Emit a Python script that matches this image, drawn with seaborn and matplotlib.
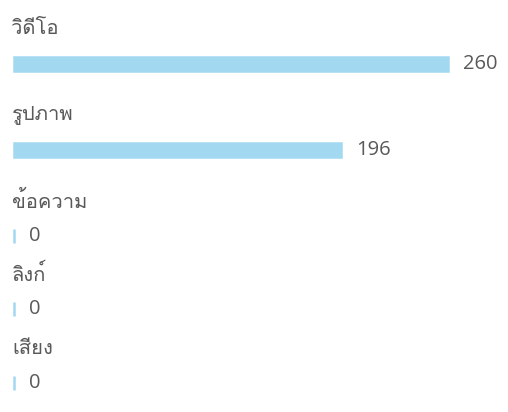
import matplotlib
matplotlib.use("Agg")
import numpy as np
import pandas as pd
import seaborn as sns
import matplotlib.pyplot as plt
from matplotlib import font_manager, ft2font

categories = ["วิดีโอ", "รูปภาพ", "ข้อความ", "ลิงก์", "เสียง"]
values = [260, 196, 0, 0, 0]

sns.set_theme(style="white")


def find_font(codepoint):
    names = []
    for f in sorted(font_manager.findSystemFonts()):
        try:
            ft = ft2font.FT2Font(f)
            if codepoint in ft.get_charmap():
                n = font_manager.FontProperties(fname=f).get_name()
                if n not in names:
                    names.append(n)
        except Exception:
            pass
    return names


thai = find_font(0x0E27)
thai_font = "Loma" if "Loma" in thai else (thai[0] if thai else "DejaVu Sans")
plt.rcParams["font.family"] = [thai_font, "Open Sans", "DejaVu Sans"]

W, H, DPI = 508, 412, 100
fig = plt.figure(figsize=(W / DPI, H / DPI), dpi=DPI)
fig.patch.set_facecolor("white")

bar_color = "#a3d8f1"
text_color = "#595959"
row_centers = [64, 150, 236, 309, 383]
bar_px = 14
x_left, x_full = 14, 448

for cat, val, yc in zip(categories, values, row_centers):
    ax = fig.add_axes([x_left / W, 1 - (yc + bar_px / 2) / H,
                       (x_full - x_left) / W, bar_px / H])
    df = pd.DataFrame({"cat": [cat], "val": [val]})
    sns.barplot(data=df, x="val", y="cat", ax=ax, color=bar_color,
                saturation=1, width=1.0, edgecolor=bar_color, linewidth=1.8)
    ax.set_xlim(0, max(values))
    ax.set_ylim(0.5, -0.5)
    ax.axis("off")
    for p in ax.patches:
        p.set_clip_on(False)
    ax.annotate(f"{val}", xy=(val, 0), xytext=(15, 0),
                textcoords="offset pixels", va="center", ha="left",
                fontsize=14.5, color=text_color,
                family=["Open Sans"], annotation_clip=False)
    ax.annotate(cat, xy=(0, 0), xytext=(-2, 35), textcoords="offset pixels",
                va="center", ha="left", fontsize=14.5, color=text_color,
                annotation_clip=False)

fig.savefig("out.png", dpi=DPI, facecolor="white")
